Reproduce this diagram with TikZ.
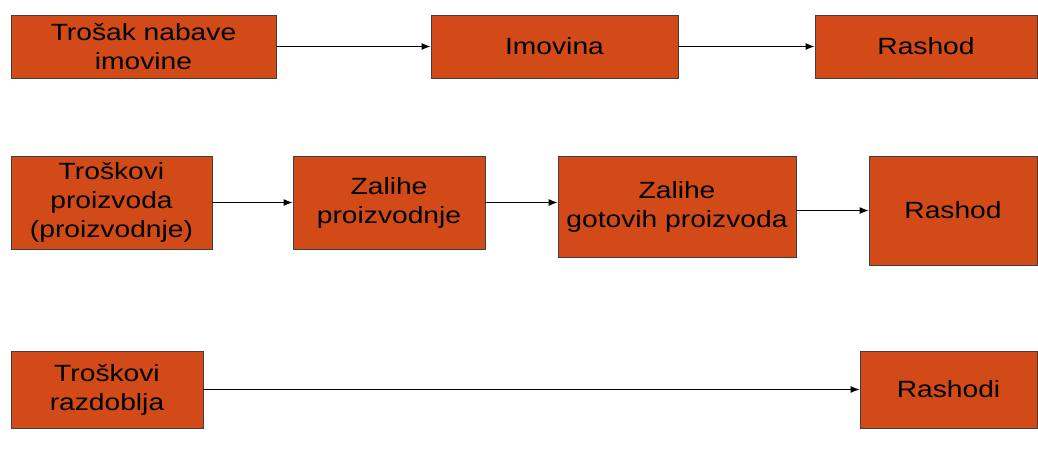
\documentclass[tikz,border=0pt]{standalone}
\usepackage{fontspec}
\setmainfont[FakeStretch=1.2]{Liberation Sans}
\usetikzlibrary{arrows.meta}

\definecolor{rust}{HTML}{D14A17}

\begin{document}
\begin{tikzpicture}[
  x = 1pt, y = -1pt,
  box/.style = {rectangle, fill=rust, draw=black!75, line width=0.9pt, align=center,
                inner sep=0pt, font=\fontsize{23.5}{29}\selectfont},
  flow/.style = {-{Latex[length=9pt,width=7pt]}, line width=1pt},
  ]
  \useasboundingbox (0,0) rectangle (1038,462);

  % first row
  \node[box, minimum width=265pt, minimum height=63pt] (nabava) at (143.5,46.5) {Trošak nabave\\imovine};
  \node[box, minimum width=247pt, minimum height=63pt] (imovina) at (554.5,46.5) {Imovina};
  \node[box, minimum width=222pt, minimum height=63pt] (rashodA) at (926,46.5) {Rashod};

  % second row
  \node[box, minimum width=201pt, minimum height=93pt] (proizvod) at (111.5,202.5) {Troškovi\\proizvoda\\(proizvodnje)};
  \node[box, minimum width=192pt, minimum height=93pt] (zalihe) at (389,202.5) {Zalihe\\proizvodnje};
  \node[box, minimum width=238pt, minimum height=101pt] (gotovi) at (677,206.5) {Zalihe\\gotovih proizvoda};
  \node[box, minimum width=168pt, minimum height=109pt] (rashodB) at (953,210.5) {Rashod};

  % third row
  \node[box, minimum width=192pt, minimum height=77pt] (razdoblje) at (107,389.5) {Troškovi\\razdoblja};
  \node[box, minimum width=177pt, minimum height=77pt] (rashodi) at (948.5,389.5) {Rashodi};

  \draw[flow] (nabava) -- (imovina);
  \draw[flow] (imovina) -- (rashodA);
  \draw[flow] (proizvod) -- (zalihe);
  \draw[flow] (zalihe.east) -- (zalihe.east -| gotovi.west);
  \draw[flow] (rashodB.west -| gotovi.east) -- (rashodB.west);
  \draw[flow] (razdoblje) -- (rashodi);
\end{tikzpicture}
\end{document}
